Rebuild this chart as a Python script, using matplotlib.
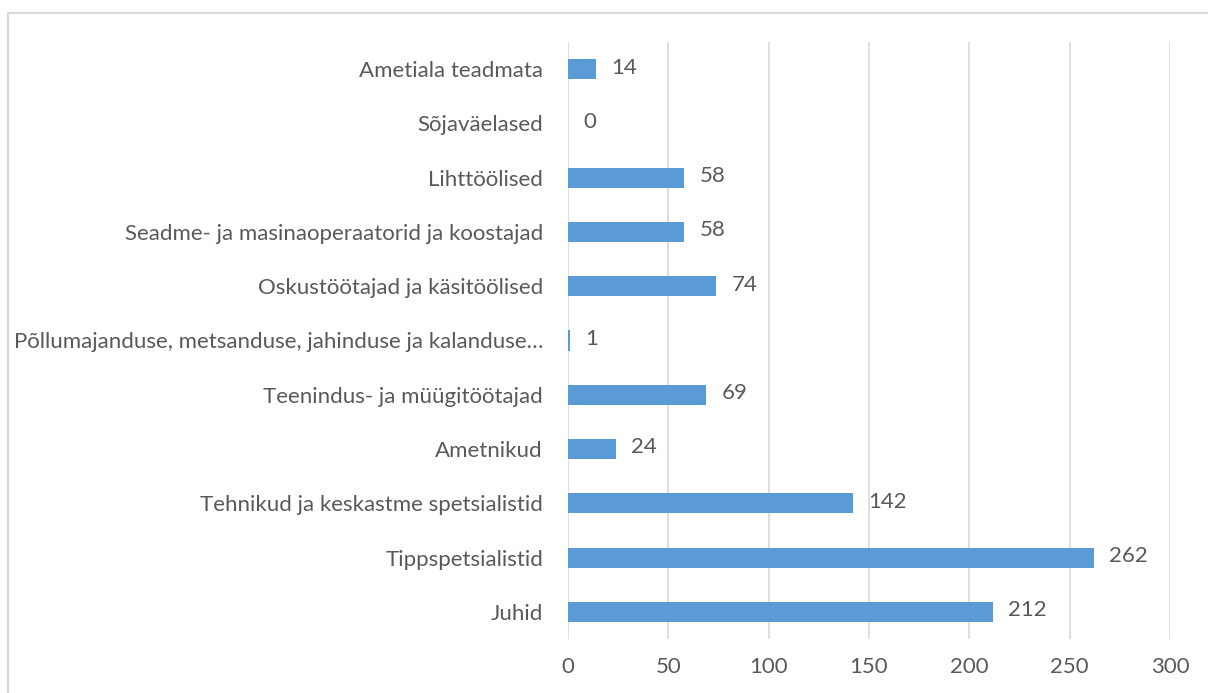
import matplotlib
matplotlib.use("Agg")
from matplotlib import pyplot as plt
from matplotlib.patches import Rectangle

categories = [
    "Juhid",
    "Tippspetsialistid",
    "Tehnikud ja keskastme spetsialistid",
    "Ametnikud",
    "Teenindus- ja müügitöötajad",
    "Põllumajanduse, metsanduse, jahinduse ja kalanduse…",
    "Oskustöötajad ja käsitöölised",
    "Seadme- ja masinaoperaatorid ja koostajad",
    "Lihttöölised",
    "Sõjaväelased",
    "Ametiala teadmata",
]
values = [212, 262, 142, 24, 69, 1, 74, 58, 58, 0, 14]
x_ticks = [0, 50, 100, 150, 200, 250, 300]

text_color = "#595959"
plt.rcParams["font.family"] = ["Lato", "DejaVu Sans"]
fs = 16

W, H = 1208, 693
fig = plt.figure(figsize=(W / 100, H / 100), dpi=100)
fig.patches.append(Rectangle((8 / W, -0.1), 1.2, 1 - 13 / H + 0.1,
                             transform=fig.transFigure, fill=False,
                             edgecolor="#d9d9d9", linewidth=1.5))

ax = fig.add_axes([568 / W, 1 - 639 / H, (1170 - 568) / W, (639 - 42) / H])
pos = list(range(len(categories)))
ax.barh(pos, values, height=0.37, color="#5b9bd5", zorder=3)

for p, v in zip(pos, values):
    ax.text(v + 7.5, p + 0.03, str(v), va="center", ha="left", fontsize=fs, color=text_color)

ax.set_xlim(0, 300)
ax.set_ylim(-0.5, len(categories) - 0.5)
ax.set_xticks(x_ticks)
ax.set_yticks(pos)
ax.set_yticklabels(categories)
ax.tick_params(axis="both", length=0, labelsize=fs, labelcolor=text_color)
ax.tick_params(axis="y", pad=18)
ax.tick_params(axis="x", pad=13)
ax.grid(axis="x", color="#d9d9d9", linewidth=1.2, zorder=0)
for s in ax.spines.values():
    s.set_visible(False)

fig.savefig("out.png", dpi=100)
